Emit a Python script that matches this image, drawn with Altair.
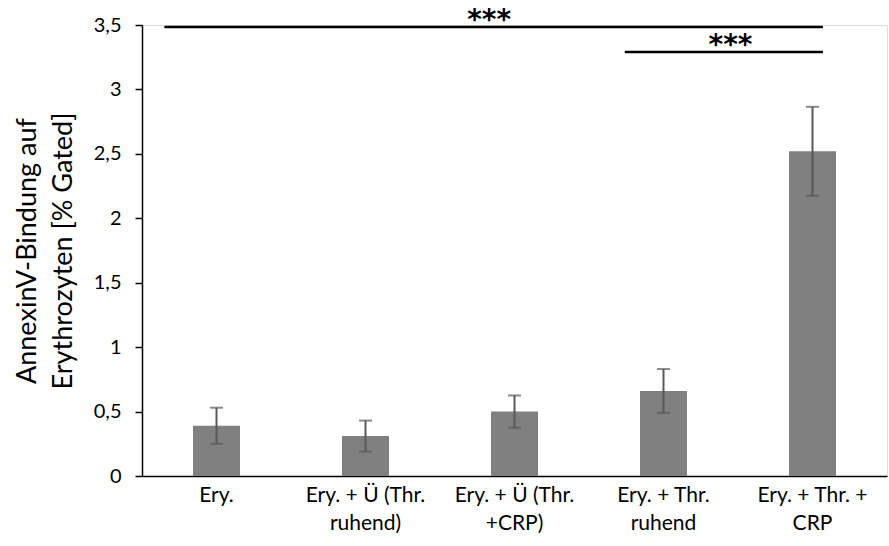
import altair as alt
import pandas as pd

categories = ["Ery.", "Ery. + Ü (Thr.\nruhend)", "Ery. + Ü (Thr.\n+CRP)", "Ery. + Thr.\nruhend", "Ery. + Thr. +\nCRP"]
values = [0.39, 0.31, 0.50, 0.66, 2.52]
errors = [0.14, 0.12, 0.125, 0.17, 0.345]

# significance brackets (x in category-slot units, 0..5)
sig_start = [0.15, 3.24]
sig_end = [4.57, 4.57]
sig_y = [3.484, 3.29]
sig_text_x = [2.33, 3.95]
sig_text_y = [3.56, 3.37]
sig_labels = ["***", "***"]

df = pd.DataFrame({
    "cat": categories,
    "val": values,
    "lo": [v - e for v, e in zip(values, errors)],
    "hi": [v + e for v, e in zip(values, errors)],
})
sig = pd.DataFrame({
    "x1": sig_start, "x2": sig_end, "y": sig_y, "ty": sig_text_y,
    "xm": sig_text_x, "lab": sig_labels,
})

FONT = "Lato"
yscale = alt.Scale(domain=[0, 3.5])
xband = alt.X("cat:N", sort=categories, title=None,
              scale=alt.Scale(paddingInner=0.68, paddingOuter=0.34),
              axis=alt.Axis(labelExpr="split(datum.label, '\\n')", labelAngle=0,
                            ticks=False, domainColor="black", domainWidth=1.5,
                            labelFont=FONT, labelFontSize=21, labelColor="black",
                            labelLineHeight=28, labelPadding=8, labelBaseline="top"))

bars = alt.Chart(df).mark_bar(color="#808080", size=47).encode(
    x=xband,
    y=alt.Y("val:Q", scale=yscale,
            title=["AnnexinV-Bindung auf", "Erythrozyten [% Gated]"],
            axis=alt.Axis(values=[0, 0.5, 1, 1.5, 2, 2.5, 3, 3.5], grid=False,
                          labelExpr="replace(format(datum.value, '~g'), '.', ',')",
                          domainColor="black", domainWidth=1.5, tickColor="black",
                          tickWidth=1.5, tickSize=7, labelFont=FONT, labelFontSize=20,
                          labelColor="black", labelPadding=14,
                          titleFont=FONT, titleFontSize=27, titleFontWeight="normal",
                          titleColor="black", titleLineHeight=36, titlePadding=16)),
)
err = alt.Chart(df).mark_rule(color="#595959", strokeWidth=2).encode(
    x=alt.X("cat:N", sort=categories), y="lo:Q", y2="hi:Q")
cap_lo = alt.Chart(df).mark_tick(color="#595959", thickness=2, size=13, orient="horizontal").encode(
    x=alt.X("cat:N", sort=categories), y="lo:Q")
cap_hi = alt.Chart(df).mark_tick(color="#595959", thickness=2, size=13, orient="horizontal").encode(
    x=alt.X("cat:N", sort=categories), y="hi:Q")

base = alt.layer(bars, err, cap_lo, cap_hi)

xq = alt.Scale(domain=[0, 5])
lines = alt.Chart(sig).mark_rule(color="black", strokeWidth=2.5, clip=False).encode(
    x=alt.X("x1:Q", scale=xq, axis=None), x2="x2:Q", y=alt.Y("y:Q", scale=yscale))
stars = alt.Chart(sig).mark_text(font="DejaVu Sans", fontWeight="bold", fontSize=28,
                                 baseline="middle", dy=4, color="black").encode(
    x=alt.X("xm:Q", scale=xq, axis=None), y=alt.Y("ty:Q", scale=yscale), text="lab:N")
overlay = alt.layer(lines, stars)

chart = alt.layer(base, overlay).resolve_scale(x="independent").properties(
    width=745, height=451,
    autosize=alt.AutoSizeParams(type="none"),
    padding={"left": 142, "top": 25, "right": 2, "bottom": 70},
).configure_view(stroke=None).configure(background="white")

chart.save("out.html", embed_options={"renderer": "svg", "actions": False})
